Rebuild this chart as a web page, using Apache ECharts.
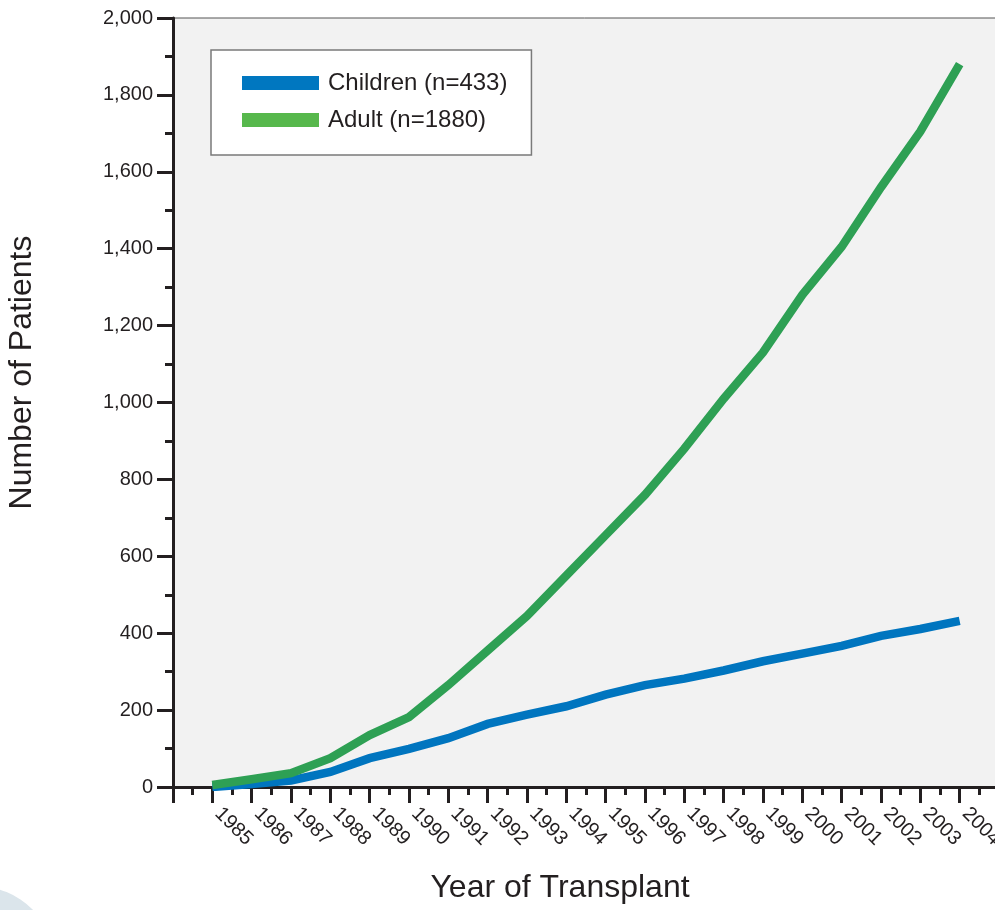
<!DOCTYPE html>
<html>
<head>
<meta charset="utf-8">
<script src="https://cdn.jsdelivr.net/npm/echarts@6/dist/echarts.min.js"></script>
<style>
  html, body { margin: 0; padding: 0; background: #ffffff; }
  #chart { width: 995px; height: 910px; }
</style>
</head>
<body>
<div id="chart"></div>
<script>
// values
const years = [1985, 1986, 1987, 1988, 1989, 1990, 1991, 1992, 1993, 1994,
  1995, 1996, 1997, 1998, 1999, 2000, 2001, 2002, 2003, 2004]
const children = [0, 8, 17, 39, 75, 99, 127, 164, 188, 210,
  240, 265, 282, 303, 327, 347, 367, 393, 411, 432]
const adult = [5, 20, 36, 75, 135, 182, 265, 355, 445, 550,
  655, 760, 880, 1010, 1130, 1280, 1405, 1560, 1705, 1880]
const seriesNames = ['Children (n=433)', 'Adult (n=1880)']

const ink = '#231f20'
const font = 'Liberation Sans, Arial, sans-serif'

const chart = echarts.init(document.getElementById('chart'))
chart.setOption({
  backgroundColor: '#ffffff',
  animation: false,
  textStyle: { fontFamily: font, color: ink },
  graphic: [{
    type: 'ring',
    shape: { cx: -24, cy: 966, r: 80, r0: 60 },
    style: { fill: '#dbe5eb' },
    silent: true
  }],
  legend: {
    orient: 'vertical',
    left: 211,
    top: 50,
    padding: [21, 24, 23, 31],
    itemGap: 13,
    itemWidth: 77,
    itemHeight: 14,
    icon: 'rect',
    backgroundColor: '#ffffff',
    borderColor: '#7a7a7a',
    borderWidth: 1.5,
    textStyle: { fontSize: 24, lineHeight: 24, color: ink, fontFamily: font, padding: [0, 0, 0, 4] },
    data: [
      { name: seriesNames[0], itemStyle: { color: '#0077c0' } },
      { name: seriesNames[1], itemStyle: { color: '#57b84c' } }
    ]
  },
  grid: {
    left: 173,
    top: 18,
    width: 826,
    bottom: 123,
    outerBoundsMode: 'none',
    containLabel: false,
    show: true,
    backgroundColor: '#f2f2f2',
    borderColor: '#555555',
    borderWidth: 1
  },
  xAxis: {
    type: 'value',
    min: 1984,
    max: 2005,
    interval: 1,
    name: 'Year of Transplant',
    nameLocation: 'middle',
    nameGap: 85,
    nameTextStyle: { fontSize: 32, color: ink, padding: [0, 52, 0, 0] },
    axisLine: { lineStyle: { color: ink, width: 3 } },
    axisTick: { inside: false, length: 16, lineStyle: { color: ink, width: 3 } },
    minorTick: { show: true, splitNumber: 2, length: 8, lineStyle: { color: ink, width: 3 } },
    splitLine: { show: false },
    axisLabel: {
      rotate: -45,
      margin: 18,
      fontSize: 20,
      color: ink,
      padding: [0, 0, 0, 8],
      formatter: v => (v < years[0] || v > years[years.length - 1]) ? '' : String(v)
    }
  },
  yAxis: {
    type: 'value',
    min: 0,
    max: 2000,
    interval: 200,
    name: 'Number of Patients',
    nameLocation: 'middle',
    nameGap: 135,
    nameTextStyle: { fontSize: 32, color: ink, padding: [0, 0, 0, 60] },
    axisLine: { show: true, lineStyle: { color: ink, width: 3 } },
    axisTick: { show: true, length: 16, lineStyle: { color: ink, width: 3 } },
    minorTick: { show: true, splitNumber: 2, length: 8, lineStyle: { color: ink, width: 3 } },
    splitLine: { show: false },
    axisLabel: {
      margin: 20,
      fontSize: 20,
      color: ink,
      formatter: v => v.toLocaleString('en-US')
    }
  },
  series: [
    {
      name: seriesNames[0],
      type: 'line',
      symbol: 'none',
      lineStyle: { color: '#0075bf', width: 8.5, cap: 'butt', join: 'miter' },
      itemStyle: { color: '#0077c0' },
      data: years.map((y, i) => [y, children[i]])
    },
    {
      name: seriesNames[1],
      type: 'line',
      symbol: 'none',
      lineStyle: { color: '#2ea054', width: 8.5, cap: 'butt', join: 'miter' },
      itemStyle: { color: '#57b84c' },
      data: years.map((y, i) => [y, adult[i]])
    }
  ]
})
</script>
</body>
</html>
